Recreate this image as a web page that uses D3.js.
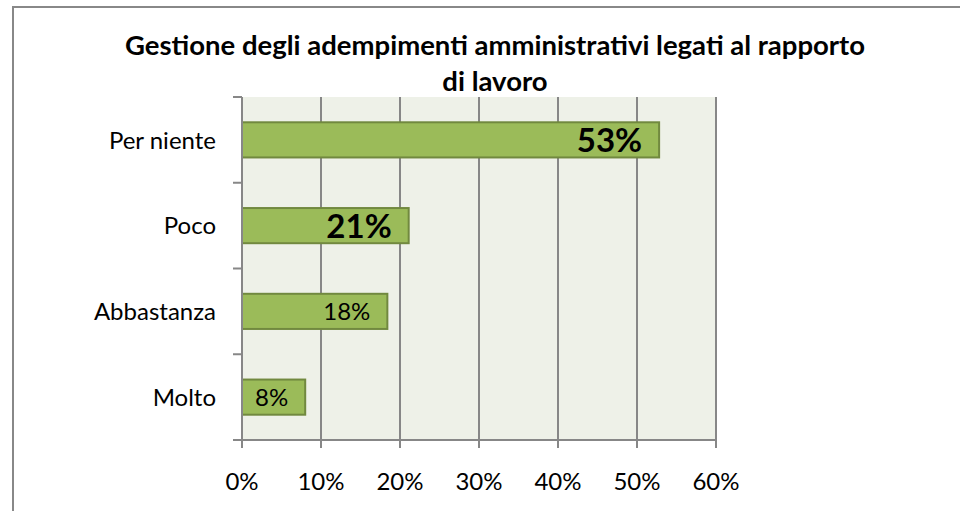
<!DOCTYPE html>
<html>
<head>
<meta charset="utf-8">
<script src="https://cdn.jsdelivr.net/npm/d3@7"></script>
<style>
  body { margin: 0; background: #fff; }
  svg { display: block; }
</style>
</head>
<body>
<div id="chart"></div>
<script>
// data
var categories = ["Per niente", "Poco", "Abbastanza", "Molto"];
var values = [52.8, 21.1, 18.4, 8.0];
var labels = ["53%", "21%", "18%", "8%"];
var bigLabel = [true, true, false, false];
var xTicks = [0, 10, 20, 30, 40, 50, 60];
var titleLines = ["Gestione degli adempimenti amministrativi legati al rapporto", "di lavoro"];

var width = 960, height = 511;
var plot = { left: 242, right: 716, top: 97, bottom: 440 };
var font = "Lato, 'Open Sans', sans-serif";

var svg = d3.select("#chart").append("svg")
  .attr("width", width)
  .attr("height", height);

// outer chart frame (right and bottom edges fall off the picture)
svg.append("rect")
  .attr("x", 13).attr("y", 7)
  .attr("width", 960).attr("height", 520)
  .attr("fill", "#fff")
  .attr("stroke", "#888")
  .attr("stroke-width", 2);

var x = d3.scaleLinear().domain([0, 60]).range([plot.left, plot.right]);
var y = d3.scaleBand().domain(categories).range([plot.top, plot.bottom])
  .paddingInner(0.59).paddingOuter(0.295);
var yb = d3.scaleBand().domain(categories).range([plot.top, plot.bottom]);

// plot background
svg.append("rect")
  .attr("x", plot.left).attr("y", plot.top)
  .attr("width", plot.right - plot.left).attr("height", plot.bottom - plot.top)
  .attr("fill", "#eef1e8");

// vertical gridlines
svg.append("g").selectAll("line").data(xTicks.slice(1)).enter().append("line")
  .attr("x1", function(d) { return x(d); })
  .attr("x2", function(d) { return x(d); })
  .attr("y1", plot.top).attr("y2", plot.bottom)
  .attr("stroke", "#878787").attr("stroke-width", 2);

// bars
svg.append("g").selectAll("rect").data(values).enter().append("rect")
  .attr("x", x(0))
  .attr("y", function(d, i) { return y(categories[i]); })
  .attr("width", function(d) { return x(d) - x(0); })
  .attr("height", y.bandwidth())
  .attr("fill", "#9bbb59")
  .attr("stroke", "#71893f")
  .attr("stroke-width", 2);

// y axis line + ticks at band edges
var yEdges = categories.map(function(c) { return yb(c); }).concat([plot.bottom]);
svg.append("line")
  .attr("x1", plot.left).attr("x2", plot.left)
  .attr("y1", plot.top).attr("y2", plot.bottom)
  .attr("stroke", "#878787").attr("stroke-width", 2);
svg.append("g").selectAll("line").data(yEdges).enter().append("line")
  .attr("x1", plot.left - 9).attr("x2", plot.left)
  .attr("y1", function(d) { return d; }).attr("y2", function(d) { return d; })
  .attr("stroke", "#878787").attr("stroke-width", 2);

// x axis line + ticks
svg.append("line")
  .attr("x1", plot.left - 9).attr("x2", plot.right)
  .attr("y1", plot.bottom).attr("y2", plot.bottom)
  .attr("stroke", "#878787").attr("stroke-width", 2);
svg.append("g").selectAll("line").data(xTicks).enter().append("line")
  .attr("x1", function(d) { return x(d); }).attr("x2", function(d) { return x(d); })
  .attr("y1", plot.bottom).attr("y2", plot.bottom + 8)
  .attr("stroke", "#878787").attr("stroke-width", 2);

// x tick labels
svg.append("g").selectAll("text").data(xTicks).enter().append("text")
  .attr("x", function(d) { return x(d); })
  .attr("y", 490)
  .attr("text-anchor", "middle")
  .style("font-family", font).style("font-size", "24px").attr("fill", "#000")
  .text(function(d) { return d + "%"; });

// category labels
svg.append("g").selectAll("text").data(categories).enter().append("text")
  .attr("x", 216)
  .attr("y", function(d) { return y(d) + y.bandwidth() / 2; })
  .attr("dy", "0.36em")
  .attr("text-anchor", "end")
  .style("font-family", font).style("font-size", "24px").attr("fill", "#000")
  .text(function(d) { return d; });

// value labels inside bar ends
svg.append("g").selectAll("text").data(values).enter().append("text")
  .attr("x", function(d) { return x(d) - 17; })
  .attr("y", function(d, i) { return y(categories[i]) + y.bandwidth() / 2; })
  .attr("dy", "0.36em")
  .attr("text-anchor", "end")
  .style("font-family", font)
  .style("font-size", function(d, i) { return bigLabel[i] ? "33px" : "24px"; })
  .style("font-weight", function(d, i) { return bigLabel[i] ? "bold" : "normal"; })
  .attr("fill", "#000")
  .text(function(d, i) { return labels[i]; });

// title
svg.append("g").selectAll("text").data(titleLines).enter().append("text")
  .attr("x", 495)
  .attr("y", function(d, i) { return 55 + i * 36; })
  .attr("text-anchor", "middle")
  .style("font-family", font).style("font-size", "27.5px").style("font-weight", "bold")
  .attr("fill", "#000")
  .text(function(d) { return d; });
</script>
</body>
</html>
